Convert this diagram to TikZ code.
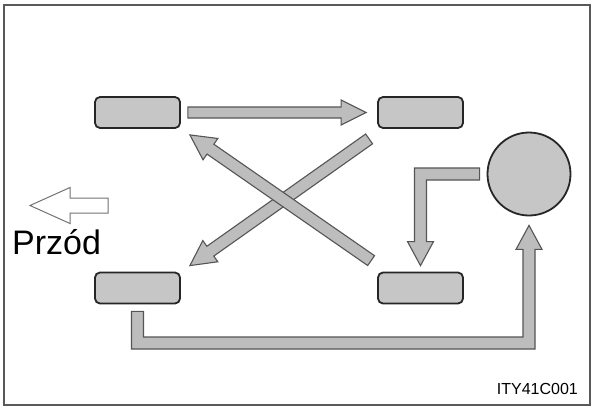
\documentclass[tikz,border=0pt]{standalone}
\usepackage{fontspec}
\setmainfont{Liberation Sans}
\usetikzlibrary{calc}

\definecolor{tirefill}{HTML}{C6C6C6}
\definecolor{arrfill}{HTML}{BDBDBD}
\definecolor{arrline}{HTML}{555555}

% fat arrow: [style]{from}{tip}{half shaft}{half head}{head length}
\newcommand{\fatarrow}[6][fatarr]{%
  \path (#2) coordinate (fa-s) (#3) coordinate (fa-t)
        ($(fa-t)!#6!(fa-s)$) coordinate (fa-h);
  \draw[#1] ($(fa-s)!#4!90:(fa-t)$) -- ($(fa-h)!#4!90:(fa-t)$)
     -- ($(fa-h)!#5!90:(fa-t)$) -- (fa-t) -- ($(fa-h)!#5!-90:(fa-t)$)
     -- ($(fa-h)!#4!-90:(fa-t)$) -- ($(fa-s)!#4!-90:(fa-t)$) -- cycle;
}

\begin{document}
\begin{tikzpicture}[x=1pt, y=1pt,
        tire/.style={rectangle, rounded corners=5pt, draw=black!85, line width=1.8pt,
                     fill=tirefill, minimum width=85pt, minimum height=31pt, inner sep=0pt},
        spare/.style={circle, draw=black!85, line width=1.8pt, fill=tirefill,
                      minimum size=83pt, inner sep=0pt},
        fatarr/.style={draw=arrline, fill=arrfill, line width=1.1pt, line join=miter},
        frontarr/.style={draw=black!55, fill=white, line width=1pt, line join=miter}
    ]
    \useasboundingbox (0,0) rectangle (593,-407);
    \draw[black!65, line width=1.5pt] (4,-5) rectangle (590,-405);

    \node[tire] (tl) at (137.5,-112.5) {};
    \node[tire] (tr) at (420.5,-112.5) {};
    \node[tire] (bl) at (137.5,-288) {};
    \node[tire] (br) at (420.5,-288) {};
    \node[spare] (sp) at (529,-174) {};

    % front direction
    \coordinate (fr1) at (108,-205.5);
    \coordinate (fr2) at (30,-205.5);
    \fatarrow[frontarr]{fr1}{fr2}{7.5pt}{18pt}{40pt}
    \node[anchor=base west, font=\fontsize{34}{34}\selectfont, inner sep=0pt] (przod) at (12,-254) {Przód};

    % rotation
    \fatarrow{$(tl.east)+(7,0)$}{$(tr.west)+(-11,0)$}{5.5pt}{12.5pt}{25pt}
    \fatarrow{$(tr.south west)+(-8,-10)$}{$(bl.north east)+(9,6)$}{6pt}{13pt}{25pt}
    \fatarrow{$(br.north west)+(-6,11)$}{$(tl.south east)+(9,-6)$}{6pt}{13pt}{25pt}

    \coordinate (s0) at ($(sp.west)+(-7,0)$);
    \coordinate (s1) at ($(br.north)+(0,6)$);
    \draw[fatarr] let \p1=(s0), \p2=(s1) in
        (\x1,\y1+6pt) -- (\x2-6pt,\y1+6pt) -- (\x2-6pt,\y2+24pt) -- (\x2-13pt,\y2+24pt)
        -- (\x2,\y2) -- (\x2+13pt,\y2+24pt) -- (\x2+6pt,\y2+24pt) -- (\x2+6pt,\y1-6pt)
        -- (\x1,\y1-6pt) -- cycle;

    \coordinate (b0) at ($(bl.south)+(0,-7)$);
    \coordinate (b1) at ($(sp.south)+(0,-9)$);
    \draw[fatarr] let \p1=(b0), \p2=(b1) in
        (\x1-6pt,\y1) -- (\x1-6pt,-349) -- (\x2+6pt,-349) -- (\x2+6pt,\y2-24pt)
        -- (\x2+13pt,\y2-24pt) -- (\x2,\y2) -- (\x2-13pt,\y2-24pt) -- (\x2-6pt,\y2-24pt)
        -- (\x2-6pt,-337) -- (\x1+6pt,-337) -- (\x1+6pt,\y1) -- cycle;

    \node[anchor=base east, font=\fontsize{16}{16}\selectfont, inner sep=0pt] (code) at (578,-394) {ITY41C001};
\end{tikzpicture}
\end{document}
